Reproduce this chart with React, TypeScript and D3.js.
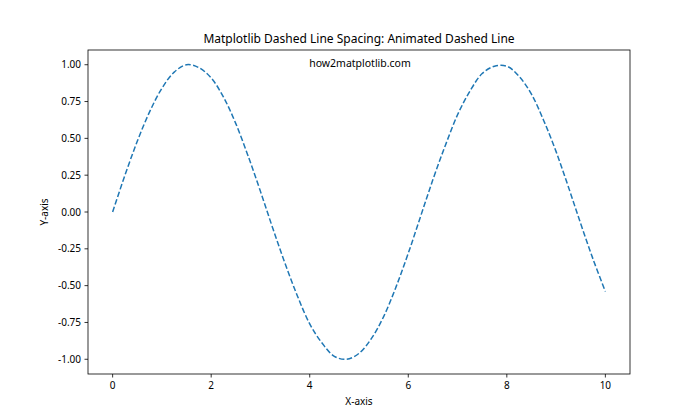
import React from "react";
import * as d3 from "d3";

const xValues: number[] = [
  0, 0.25, 0.5, 0.75, 1, 1.25, 1.5, 1.75, 2, 2.25, 2.5, 2.75, 3, 3.25, 3.5, 3.75, 4, 4.25, 4.5, 4.75,
  5, 5.25, 5.5, 5.75, 6, 6.25, 6.5, 6.75, 7, 7.25, 7.5, 7.75, 8, 8.25, 8.5, 8.75, 9, 9.25, 9.5, 9.75, 10,
];
const yValues: number[] = [
  0.0, 0.25, 0.48, 0.68, 0.84, 0.95, 1.0, 0.98, 0.91, 0.78, 0.6, 0.38, 0.14, -0.11, -0.35, -0.57, -0.76,
  -0.89, -0.98, -1.0, -0.96, -0.86, -0.71, -0.51, -0.28, -0.03, 0.22, 0.45, 0.66, 0.82, 0.94, 0.99, 0.99,
  0.92, 0.8, 0.62, 0.41, 0.17, -0.08, -0.32, -0.54,
];
const xTicks: number[] = [0, 2, 4, 6, 8, 10];
const yTicks: number[] = [-1.0, -0.75, -0.5, -0.25, 0.0, 0.25, 0.5, 0.75, 1.0];

const W = 700;
const H = 420;
const left = 88;
const right = 630;
const top = 50;
const bottom = 374;
const FONT = "'Noto Sans', 'Open Sans', sans-serif";

export default function App() {
  const x = d3.scaleLinear().domain([-0.5, 10.5]).range([left, right]);
  const y = d3.scaleLinear().domain([-1.1, 1.1]).range([bottom, top]);
  const pts: [number, number][] = xValues.map((v, i) => [v, yValues[i]]);
  const line = d3
    .line<[number, number]>()
    .x((d) => x(d[0]))
    .y((d) => y(d[1]))
    .curve(d3.curveCatmullRom.alpha(0.5));

  return (
    <svg
      width={W}
      height={H}
      style={{ position: "absolute", left: 0, top: 0, background: "#fff" }}
      fontFamily={FONT}
    >
      <rect x={0} y={0} width={W} height={H} fill="#fff" />
      <path
        d={line(pts) || ""}
        fill="none"
        stroke="#1f77b4"
        strokeWidth={1.5}
        strokeDasharray="5.55,2.4"
      />
      <text x={360} y={67} textAnchor="middle" fontSize={10.5} fill="#000">
        how2matplotlib.com
      </text>
      <rect x={left} y={top} width={right - left} height={bottom - top} fill="none" stroke="#000" strokeWidth={0.8} />
      {xTicks.map((t) => (
        <g key={"x" + t}>
          <line x1={x(t)} x2={x(t)} y1={bottom} y2={bottom + 3.5} stroke="#000" strokeWidth={0.8} />
          <text x={x(t)} y={bottom + 15} textAnchor="middle" fontSize={10} fill="#000">
            {t}
          </text>
        </g>
      ))}
      {yTicks.map((t) => (
        <g key={"y" + t}>
          <line x1={left - 3.5} x2={left} y1={y(t)} y2={y(t)} stroke="#000" strokeWidth={0.8} />
          <text x={left - 7} y={y(t) + 3.5} textAnchor="end" fontSize={10} fill="#000">
            {t.toFixed(2)}
          </text>
        </g>
      ))}
      <text x={(left + right) / 2} y={43} textAnchor="middle" fontSize={12} fill="#000">
        Matplotlib Dashed Line Spacing: Animated Dashed Line
      </text>
      <text x={(left + right) / 2} y={405} textAnchor="middle" fontSize={10} fill="#000">
        X-axis
      </text>
      <text
        transform={`translate(${48},${(top + bottom) / 2}) rotate(-90)`}
        textAnchor="middle"
        fontSize={10}
        fill="#000"
      >
        Y-axis
      </text>
    </svg>
  );
}
